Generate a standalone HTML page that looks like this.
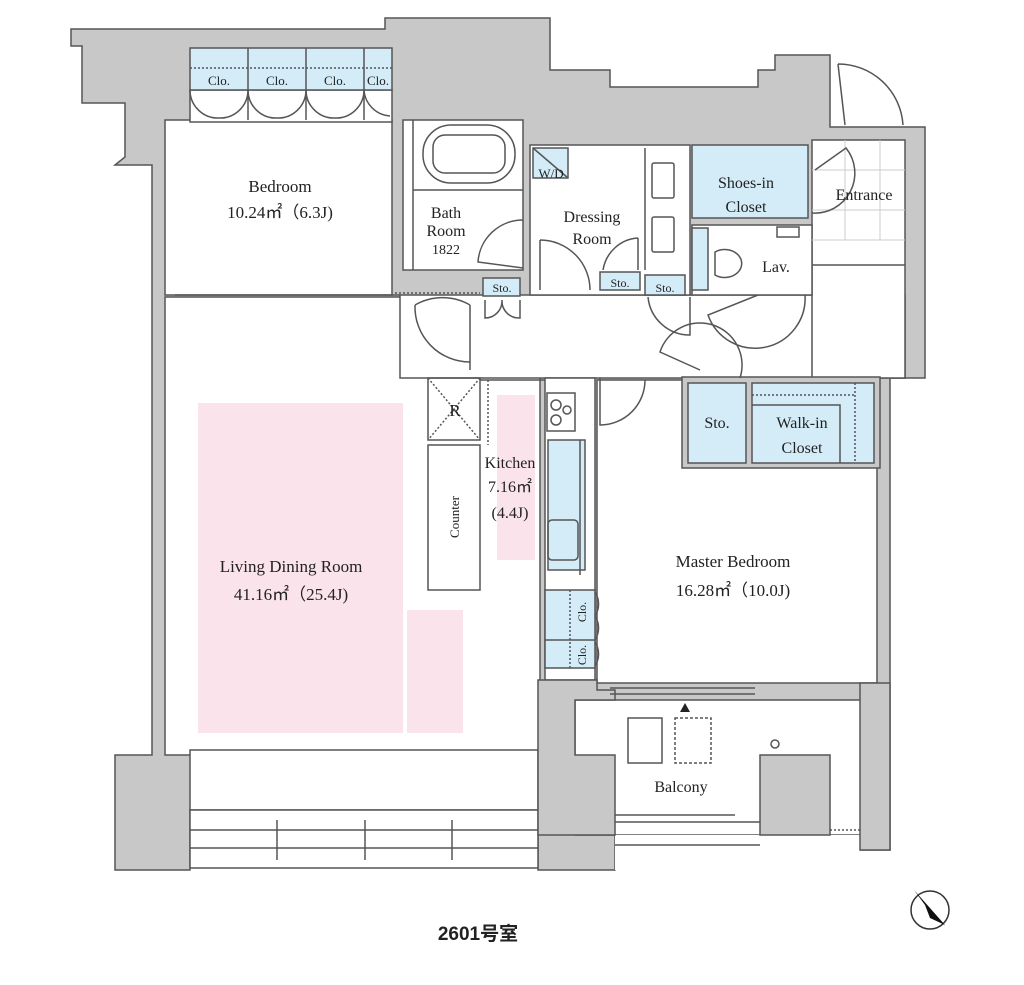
<!DOCTYPE html>
<html><head><meta charset="utf-8"><style>
body{margin:0;background:#fff;width:1024px;height:985px;overflow:hidden}
svg{display:block}
text{font-family:"Liberation Serif",serif;fill:#222}
</style></head><body>
<svg width="1024" height="985" viewBox="0 0 1024 985" xmlns="http://www.w3.org/2000/svg">
<g stroke="#555" stroke-width="1.5">
<!-- main gray mass -->
<polygon fill="#c8c8c8" points="71,29 385,29 385,18 550,18 550,70 610,70 610,87 758,87 758,70 775,70 775,55 830,55 830,127 925,127 925,378 890,378 890,850 860,850 860,835 615,835 615,870 538,870 538,810 190,810 190,870 115,870 115,755 152,755 152,165 115,165 125,157 125,103 82,103 82,46 71,46"/>
<!-- rooms white -->
<g fill="#fff">
<rect x="165" y="120" width="227" height="175"/>
<rect x="190" y="90" width="202" height="32"/>
<rect x="165" y="297" width="375" height="458"/>
<rect x="190" y="750" width="348" height="60"/>
<rect x="400" y="295" width="505" height="83"/>
<rect x="812" y="140" width="93" height="238"/>
<rect x="403" y="120" width="120" height="150"/>
<rect x="530" y="145" width="160" height="150"/>
<rect x="692" y="225" width="120" height="70"/>
<rect x="545" y="378" width="50" height="302"/>
<rect x="597" y="380" width="280" height="303"/>
<rect x="575" y="700" width="287" height="135"/>
<rect x="190" y="810" width="348" height="58"/>
<rect x="615" y="835" width="245" height="35" stroke="none"/>
</g>
<!-- gray fills on top -->
<g fill="#c8c8c8">
<rect x="682" y="377" width="198" height="91"/>
<polygon points="760,755 830,755 830,835 760,835"/>
<polygon points="538,680 597,680 597,690 615,690 615,700 575,700 575,755 615,755 615,835 538,835"/>
<rect x="860" y="683" width="30" height="167"/>
</g>
<!-- blue storage -->
<g fill="#d4ecf7">
<rect x="190" y="48" width="202" height="42"/>
<rect x="692" y="145" width="116" height="73"/>
<rect x="533" y="148" width="35" height="30"/>
<rect x="483" y="278" width="37" height="18"/>
<rect x="600" y="272" width="40" height="18"/>
<rect x="645" y="275" width="40" height="20"/>
<rect x="688" y="383" width="58" height="80"/>
<rect x="752" y="383" width="122" height="80"/>
<rect x="545" y="590" width="50" height="78"/>
<rect x="548" y="440" width="37" height="130"/>
<rect x="692" y="228" width="16" height="62"/>
</g>
<!-- pink -->
<g fill="#fbe3ec" stroke="none">
<rect x="198" y="403" width="205" height="330"/>
<rect x="407" y="610" width="56" height="123"/>
<rect x="497" y="395" width="38" height="165"/>
</g>
<!-- closet dividers -->
<g fill="none">
<line x1="248" y1="48" x2="248" y2="120"/><line x1="306" y1="48" x2="306" y2="120"/><line x1="364" y1="48" x2="364" y2="120"/>
<line x1="190" y1="68" x2="392" y2="68" stroke-dasharray="2,2"/>
<path d="M190,90 A28,28 0 0 0 219,118 M248,90 A28,28 0 0 1 219,118 M248,90 A28,28 0 0 0 277,118 M306,90 A28,28 0 0 1 277,118 M306,90 A28,28 0 0 0 335,118 M364,90 A28,28 0 0 1 335,118 M364,90 A28,28 0 0 0 390,116"/>
<!-- bedroom sliding doors -->
<line x1="175" y1="295" x2="400" y2="295"/><line x1="395" y1="293" x2="480" y2="293" stroke-dasharray="2,2"/>
<!-- bath tub -->
<rect x="423" y="125" width="92" height="58" rx="28"/><rect x="433" y="135" width="72" height="38" rx="12"/>
<line x1="413" y1="190" x2="523" y2="190"/><line x1="413" y1="120" x2="413" y2="270"/>
<path d="M523,220 A45,45 0 0 0 478,262 L523,268"/>
<line x1="533" y1="148" x2="568" y2="178"/>
<!-- dressing doors -->
<path d="M540,240 L540,290 M540,240 A50,50 0 0 1 590,290 M638,238 L638,270 M638,238 A38,38 0 0 0 603,270"/>
<line x1="645" y1="148" x2="645" y2="270"/>
<rect x="652" y="163" width="22" height="35" rx="2"/><rect x="652" y="217" width="22" height="35" rx="2"/>
<!-- lav -->
<path d="M715,252 A17,14 0 1 1 715,275 Z"/><rect x="777" y="227" width="22" height="10"/>
<!-- entrance tiles -->
<g stroke="#ccc" stroke-width="1"><line x1="812" y1="170" x2="905" y2="170"/><line x1="812" y1="210" x2="905" y2="210"/><line x1="812" y1="240" x2="905" y2="240"/><line x1="845" y1="140" x2="845" y2="240"/><line x1="880" y1="140" x2="880" y2="240"/></g>
<line x1="812" y1="265" x2="905" y2="265"/>
<path d="M815,170 L846,148 A40,40 0 0 1 812,213"/>
<path d="M838,64 L845,125 M838,64 A65,65 0 0 1 903,125"/>
<!-- hall doors -->
<path d="M470,305 A55,55 0 0 0 415,305 M470,305 L470,370 M415,305 A55,55 0 0 0 470,362"/>
<path d="M485,300 L485,318 A17,17 0 0 0 502,300 M520,300 L520,318 A17,17 0 0 1 502,300"/>
<path d="M690,297 L690,335 A42,42 0 0 1 648,297"/>
<path d="M758,295 L708,315 A50,50 0 0 0 805,295"/>
<path d="M740,378 A42,42 0 0 0 660,352 L700,370"/>
<path d="M600,378 L600,425 A45,45 0 0 0 645,380"/>
<!-- fridge & counter -->
<rect x="428" y="378" width="52" height="62"/><line x1="428" y1="378" x2="480" y2="440" stroke-dasharray="2,2"/><line x1="480" y1="378" x2="428" y2="440" stroke-dasharray="2,2"/>
<rect x="428" y="445" width="52" height="145" fill="#fff"/>
<line x1="480" y1="380" x2="545" y2="380"/><line x1="488" y1="380" x2="488" y2="445" stroke-dasharray="2,2"/>
<!-- kitchen stove -->
<rect x="547" y="393" width="28" height="38"/><circle cx="556" cy="405" r="5"/><circle cx="567" cy="410" r="4"/><circle cx="556" cy="420" r="5"/>
<rect x="548" y="520" width="30" height="40" rx="4"/>
<line x1="580" y1="440" x2="580" y2="575"/>
<!-- clo master -->
<line x1="570" y1="590" x2="570" y2="668" stroke-dasharray="2,2"/><line x1="545" y1="640" x2="595" y2="640"/>
<path d="M595,592 A22,22 0 0 1 595,616 M595,616 A22,22 0 0 1 595,640 M595,642 A22,22 0 0 1 595,666"/>
<!-- WIC -->
<line x1="752" y1="395" x2="855" y2="395" stroke-dasharray="2,2"/><line x1="855" y1="383" x2="855" y2="463" stroke-dasharray="2,2"/>
<polyline points="752,405 840,405 840,463"/>
<!-- master window -->
<line x1="610" y1="688" x2="755" y2="688"/><line x1="610" y1="694" x2="755" y2="694"/>
<!-- balcony -->
<rect x="628" y="718" width="34" height="45"/><rect x="675" y="718" width="36" height="45" stroke-dasharray="3,2"/>
<circle cx="775" cy="744" r="4"/>
<line x1="615" y1="815" x2="735" y2="815"/><line x1="615" y1="822" x2="760" y2="822"/><line x1="615" y1="845" x2="760" y2="845"/><line x1="830" y1="830" x2="860" y2="830" stroke-dasharray="2,2"/>
<!-- living windows -->
<line x1="190" y1="830" x2="538" y2="830"/><line x1="190" y1="848" x2="538" y2="848"/>
<line x1="277" y1="820" x2="277" y2="860"/><line x1="365" y1="820" x2="365" y2="860"/><line x1="452" y1="820" x2="452" y2="860"/>
</g>
</g>
<polygon points="685,703 680,712 690,712" fill="#222"/>
<!-- labels -->
<g font-size="13" text-anchor="middle">
<text x="219" y="85">Clo.</text><text x="277" y="85">Clo.</text><text x="335" y="85">Clo.</text><text x="378" y="85">Clo.</text>
<text x="502" y="292" font-size="12">Sto.</text><text x="620" y="287" font-size="12">Sto.</text><text x="665" y="292" font-size="12">Sto.</text>
<text x="551" y="178">W/D</text>
</g>
<g font-size="17" text-anchor="middle">
<text x="280" y="192">Bedroom</text><text x="280" y="218">10.24㎡（6.3J)</text>
<text x="446" y="218" font-size="16">Bath</text><text x="446" y="236" font-size="16">Room</text><text x="446" y="254" font-size="14">1822</text>
<text x="592" y="222" font-size="16">Dressing</text><text x="592" y="244" font-size="16">Room</text>
<text x="746" y="188" font-size="16">Shoes-in</text><text x="746" y="212" font-size="16">Closet</text>
<text x="864" y="200" font-size="16">Entrance</text>
<text x="776" y="272" font-size="16">Lav.</text>
<text x="455" y="416">R</text>
<text x="510" y="468" font-size="16">Kitchen</text><text x="510" y="492" font-size="16">7.16㎡</text><text x="510" y="518" font-size="16">(4.4J)</text>
<text x="717" y="428" font-size="16">Sto.</text>
<text x="802" y="428" font-size="16">Walk-in</text><text x="802" y="453" font-size="16">Closet</text>
<text x="291" y="572">Living Dining Room</text><text x="291" y="600">41.16㎡（25.4J)</text>
<text x="733" y="567">Master Bedroom</text><text x="733" y="596">16.28㎡（10.0J)</text>
<text x="681" y="792" font-size="16">Balcony</text>
</g>
<text transform="translate(459,517) rotate(-90)" font-size="13" text-anchor="middle">Counter</text>
<text transform="translate(586,612) rotate(-90)" font-size="12" text-anchor="middle">Clo.</text>
<text transform="translate(586,655) rotate(-90)" font-size="12" text-anchor="middle">Clo.</text>
<text x="478" y="940" text-anchor="middle" font-size="19" font-weight="bold" style="font-family:'Liberation Sans','Noto Sans CJK JP',sans-serif">2601号室</text>
<circle cx="930" cy="910" r="19" fill="#fff" stroke="#333" stroke-width="1.5"/>
<polygon points="914,890 945,925 930,918 925,905" fill="#111"/>
</svg>
</body></html>
